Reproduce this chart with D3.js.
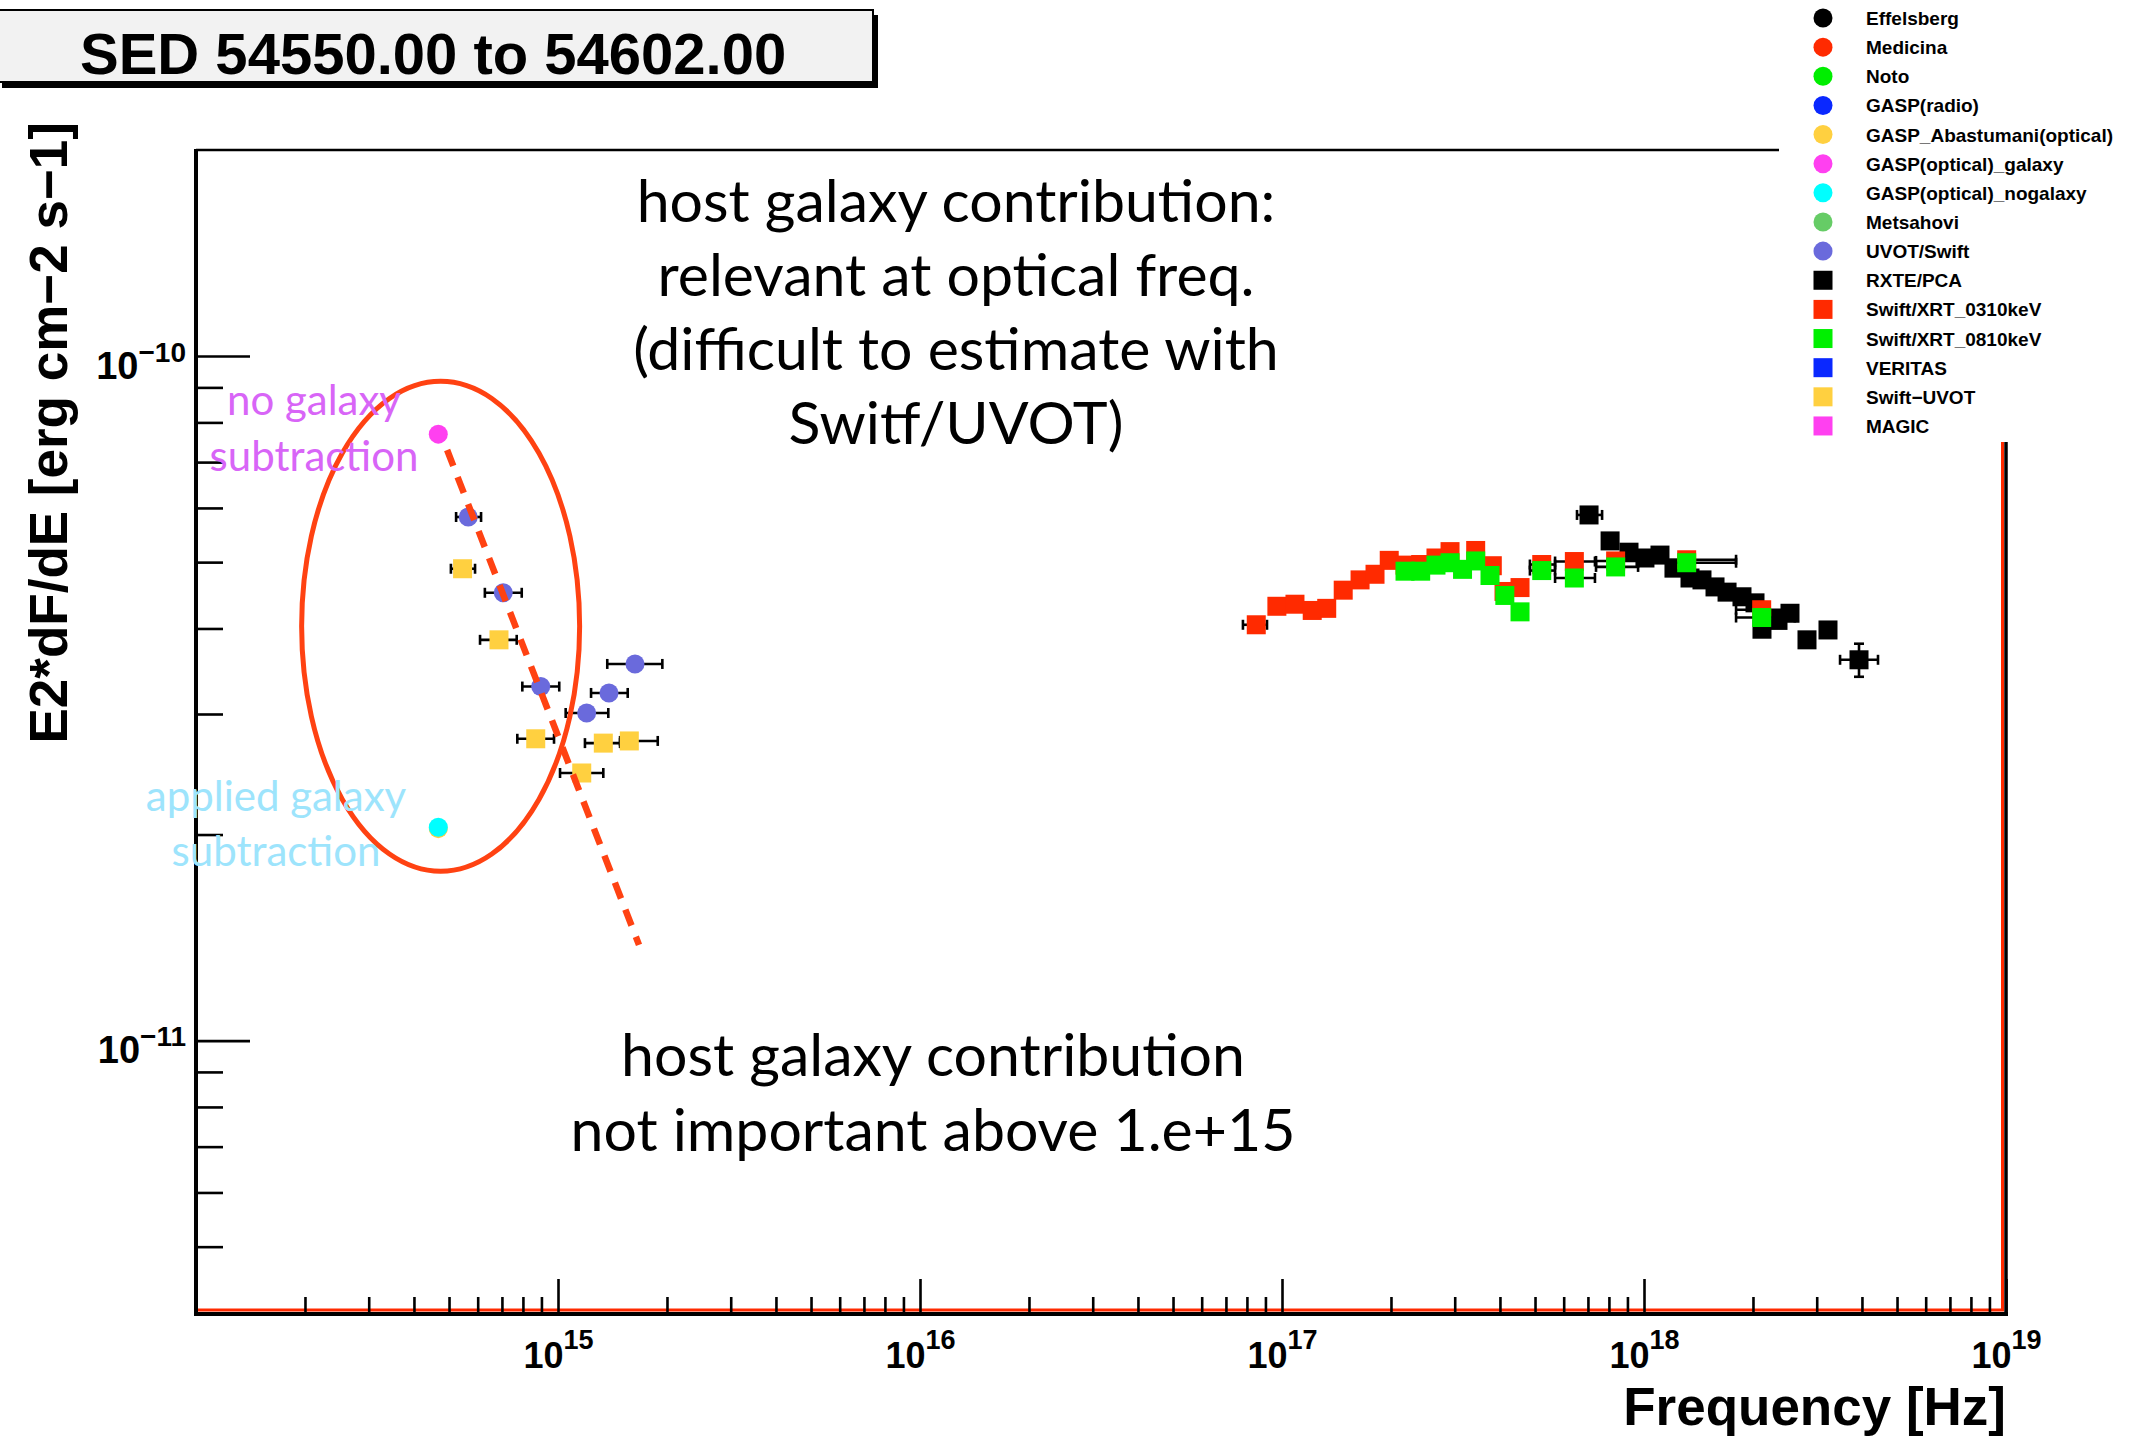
<!DOCTYPE html>
<html>
<head>
<meta charset="utf-8">
<script src="https://cdnjs.cloudflare.com/ajax/libs/d3/7.8.5/d3.min.js"></script>
<style>
  body { margin: 0; background: #fff; }
  svg { display: block; }
</style>
</head>
<body>
<svg id="chart" width="2133" height="1444"></svg>
<script>
"use strict";

// axis ranges and labelled decades
const freqDomain = [1e14, 1e19];
const fluxDomain = [4e-12, 2e-10];
const freqLabels = [15, 16, 17, 18, 19];
const fluxLabels = [-11, -10];

// GASP optical, one epoch
const gaspGalaxyFreq = [4.67e14];
const gaspGalaxyFlux = [7.69e-11];
const gaspAbasFreq = [4.67e14];
const gaspAbasFlux = [2.04e-11];
const gaspNoGalaxyFreq = [4.67e14];
const gaspNoGalaxyFlux = [2.05e-11];

// UVOT/Swift (circles)
const uvotFreq = [5.65e14, 7.06e14, 8.96e14, 1.200e15, 1.383e15, 1.632e15];
const uvotFlux = [5.82e-11, 4.51e-11, 3.29e-11, 3.01e-11, 3.22e-11, 3.55e-11];
const uvotFreqLo = [5.23e14, 6.28e14, 7.97e14, 1.050e15, 1.234e15, 1.368e15];
const uvotFreqHi = [6.13e14, 7.94e14, 1.008e15, 1.377e15, 1.558e15, 1.942e15];

// Swift-UVOT (squares)
const swiftUvotFreq = [5.45e14, 6.87e14, 8.68e14, 1.163e15, 1.334e15, 1.574e15];
const swiftUvotFlux = [4.89e-11, 3.85e-11, 2.76e-11, 2.46e-11, 2.72e-11, 2.74e-11];
const swiftUvotFreqLo = [5.06e14, 6.09e14, 7.72e14, 1.013e15, 1.187e15, 1.484e15];
const swiftUvotFreqHi = [5.90e14, 7.69e14, 9.75e14, 1.334e15, 1.484e15, 1.886e15];

// RXTE/PCA
const rxteFreq = [7.05e17, 8.06e17, 9.09e17, 1.006e18, 1.107e18, 1.210e18, 1.340e18, 1.446e18, 1.571e18,
  1.696e18, 1.865e18, 2.026e18, 2.118e18, 2.345e18, 2.531e18, 2.820e18, 3.223e18, 3.926e18];
const rxteFlux = [5.86e-11, 5.37e-11, 5.17e-11, 5.07e-11, 5.12e-11, 4.90e-11, 4.74e-11, 4.71e-11, 4.60e-11,
  4.52e-11, 4.45e-11, 4.36e-11, 3.99e-11, 4.11e-11, 4.21e-11, 3.85e-11, 3.98e-11, 3.60e-11];
const rxteFreqLo = [6.53e17, null, null, null, null, null, null, null, null,
  null, null, null, null, null, null, null, null, 3.48e18];
const rxteFreqHi = [7.66e17, null, null, null, null, null, null, null, null,
  null, null, null, null, null, null, null, null, 4.43e18];
const rxteFluxLo = [null, null, null, null, null, null, null, null, null,
  null, null, null, null, null, null, null, null, 3.40e-11];
const rxteFluxHi = [null, null, null, null, null, null, null, null, null,
  null, null, null, null, null, null, null, null, 3.80e-11];

// Swift/XRT 0.3-10 keV
const xrt0310Freq = [8.49e16, 9.68e16, 1.086e17, 1.212e17, 1.329e17, 1.476e17, 1.643e17, 1.807e17, 1.978e17,
  2.187e17, 2.416e17, 2.663e17, 2.912e17, 3.428e17, 3.810e17, 4.105e17, 4.545e17, 5.218e17, 6.421e17,
  8.349e17, 1.312e18, 2.114e18];
const xrt0310Flux = [4.05e-11, 4.31e-11, 4.34e-11, 4.25e-11, 4.28e-11, 4.55e-11, 4.71e-11, 4.80e-11, 5.03e-11,
  4.95e-11, 4.96e-11, 5.07e-11, 5.18e-11, 5.20e-11, 4.94e-11, 4.53e-11, 4.59e-11, 4.96e-11, 5.01e-11,
  5.02e-11, 5.04e-11, 4.26e-11];
const xrt0310FreqLo = [7.80e16, null, null, null, null, null, null, null, null,
  null, null, null, null, null, null, null, null, 4.84e17, 5.68e17, 7.37e17, 9.63e17, 1.796e18];
const xrt0310FreqHi = [9.09e16, null, null, null, null, null, null, null, null,
  null, null, null, null, null, null, null, null, 5.68e17, 7.32e17, 9.63e17, 1.796e18, 2.61e18];

// Swift/XRT 0.8-10 keV
const xrt0810Freq = [2.187e17, 2.416e17, 2.663e17, 2.912e17, 3.153e17, 3.428e17, 3.755e17, 4.126e17,
  4.545e17, 5.218e17, 6.421e17, 8.349e17, 1.312e18, 2.114e18];
const xrt0810Flux = [4.85e-11, 4.85e-11, 4.95e-11, 4.99e-11, 4.88e-11, 5.02e-11, 4.78e-11, 4.47e-11,
  4.23e-11, 4.86e-11, 4.74e-11, 4.92e-11, 4.99e-11, 4.15e-11];
const xrt0810FreqLo = [null, null, null, null, null, null, null, null,
  null, 4.84e17, 5.68e17, 7.37e17, 9.63e17, 1.796e18];
const xrt0810FreqHi = [null, null, null, null, null, null, null, null,
  null, 5.68e17, 7.32e17, 9.63e17, 1.796e18, 2.61e18];

// host galaxy sketch: dashed slope and the circled region
const hostLineFreq = [4.94e14, 1.674e15];
const hostLineFlux = [7.29e-11, 1.38e-11];
const hostEllipse = [4.74e14, 4.03e-11];

// legend
const legendNames = ["Effelsberg", "Medicina", "Noto", "GASP(radio)", "GASP_Abastumani(optical)",
  "GASP(optical)_galaxy", "GASP(optical)_nogalaxy", "Metsahovi", "UVOT/Swift", "RXTE/PCA",
  "Swift/XRT_0310keV", "Swift/XRT_0810keV", "VERITAS", "Swift\u2212UVOT", "MAGIC"];
const legendColors = ["#000000", "#ff2a00", "#00ee00", "#0a28ff", "#ffd040", "#ff40f0", "#00ffff",
  "#66cc66", "#6a6adc", "#000000", "#ff2a00", "#00f000", "#0a28ff", "#ffd040", "#ff40f0"];
const legendShapes = ["circle", "circle", "circle", "circle", "circle", "circle", "circle", "circle",
  "circle", "square", "square", "square", "square", "square", "square"];

// text notes
const noteTop = ["host galaxy contribution:", "relevant at optical freq.", "(difficult to estimate with", "Switf/UVOT)"];
const noteBottom = ["host galaxy contribution", "not important above 1.e+15"];
const noteNoGalaxy = ["no galaxy", "subtraction"];
const noteApplied = ["applied galaxy", "subtraction"];

(function() {
  window.addEventListener("load", init);

  const ROOT_FONT = "'Liberation Sans', Arial, Helvetica, sans-serif";
  const NOTE_FONT = "Lato, 'Open Sans', sans-serif";

  function init() {
    const svg = d3.select("#chart");
    const x = d3.scaleLog().domain(freqDomain).range([196, 2006]);
    const y = d3.scaleLog().domain(fluxDomain).range([1313, 150]);

    drawTitle(svg);
    drawFrame(svg, x, y);
    drawData(svg, x, y);
    drawNotes(svg, x, y);
    drawLegend(svg);
  }

  function drawTitle(svg) {
    // pave with a shadow, like ROOT
    svg.append("rect").attr("x", 2).attr("y", 15).attr("width", 876).attr("height", 73).attr("fill", "#000");
    svg.append("rect")
      .attr("x", -4).attr("y", 10).attr("width", 877).attr("height", 72)
      .attr("fill", "#f2f2f2").attr("stroke", "#000").attr("stroke-width", 2);
    svg.append("text")
      .attr("x", 80).attr("y", 74)
      .attr("font-family", ROOT_FONT).attr("font-weight", "bold").attr("font-size", 58)
      .text("SED 54550.00 to 54602.00");
  }

  function drawFrame(svg, x, y) {
    const left = x.range()[0], right = x.range()[1];
    const bottom = y.range()[0], top = y.range()[1];

    svg.append("line").attr("x1", left).attr("x2", right).attr("y1", top).attr("y2", top)
      .attr("stroke", "#000").attr("stroke-width", 2.5);
    // red graph line lying on the frame
    svg.append("path")
      .attr("d", "M" + (left + 2) + "," + (bottom - 3) + "H" + (right - 3.5) + "V" + top)
      .attr("fill", "none").attr("stroke", "#ff2a00").attr("stroke-width", 3);
    svg.append("line").attr("x1", right).attr("x2", right).attr("y1", top).attr("y2", bottom + 2)
      .attr("stroke", "#000").attr("stroke-width", 3.5);
    svg.append("line").attr("x1", left).attr("x2", left).attr("y1", top - 1).attr("y2", bottom + 3)
      .attr("stroke", "#000").attr("stroke-width", 4);
    svg.append("line").attr("x1", left - 2).attr("x2", right + 2).attr("y1", bottom + 1).attr("y2", bottom + 1)
      .attr("stroke", "#000").attr("stroke-width", 4);

    // ticks: majors on whole decades, minors on 2..9
    const isDecade = d => Math.abs(Math.log10(d) - Math.round(Math.log10(d))) < 1e-6;
    const xt = x.ticks().filter(d => d > freqDomain[0] * 1.01);
    const yt = y.ticks().filter(d => d > fluxDomain[0] * 1.01 && d < fluxDomain[1] * 0.99);

    const xMinor = svg.append("g").attr("transform", "translate(0," + bottom + ")")
      .call(d3.axisBottom(x).tickValues(xt.filter(d => !isDecade(d))).tickSizeInner(-16).tickSizeOuter(0).tickFormat(""));
    const xMajor = svg.append("g").attr("transform", "translate(0," + bottom + ")")
      .call(d3.axisBottom(x).tickValues(xt.filter(isDecade)).tickSizeInner(-34).tickSizeOuter(0).tickFormat(""));
    const yMinor = svg.append("g").attr("transform", "translate(" + left + ",0)")
      .call(d3.axisLeft(y).tickValues(yt.filter(d => !isDecade(d))).tickSizeInner(-27).tickSizeOuter(0).tickFormat(""));
    const yMajor = svg.append("g").attr("transform", "translate(" + left + ",0)")
      .call(d3.axisLeft(y).tickValues(yt.filter(isDecade)).tickSizeInner(-54).tickSizeOuter(0).tickFormat(""));

    [xMinor, xMajor, yMinor, yMajor].forEach(g => {
      g.select(".domain").remove();
      g.selectAll("text").remove();
      g.selectAll("line").attr("stroke", "#000").attr("stroke-width", 2.6);
    });

    // 10^n labels
    xMajor.selectAll(".tick")
      .filter(d => freqLabels.indexOf(Math.round(Math.log10(d))) >= 0)
      .append("text")
      .attr("y", 55).attr("text-anchor", "middle").attr("fill", "#000")
      .attr("font-family", ROOT_FONT).attr("font-weight", "bold")
      .each(function(d) {
        const t = d3.select(this);
        t.append("tspan").attr("font-size", 36).text("10");
        t.append("tspan").attr("font-size", 27).attr("dy", -19).text(Math.round(Math.log10(d)));
      });

    yMajor.selectAll(".tick")
      .filter(d => fluxLabels.indexOf(Math.round(Math.log10(d))) >= 0)
      .append("text")
      .attr("x", -10).attr("y", 22).attr("text-anchor", "end").attr("fill", "#000")
      .attr("font-family", ROOT_FONT).attr("font-weight", "bold")
      .each(function(d) {
        const t = d3.select(this);
        t.append("tspan").attr("font-size", 38).text("10");
        t.append("tspan").attr("font-size", 28).attr("dy", -17).text("\u2212" + Math.abs(Math.round(Math.log10(d))));
      });

    // axis titles
    svg.append("text")
      .attr("x", right).attr("y", 1425).attr("text-anchor", "end")
      .attr("font-family", ROOT_FONT).attr("font-weight", "bold").attr("font-size", 53)
      .text("Frequency [Hz]");
    svg.append("text")
      .attr("transform", "translate(67,122) rotate(-90)")
      .attr("text-anchor", "end")
      .attr("font-family", ROOT_FONT).attr("font-weight", "bold").attr("font-size", 53)
      .text("E2*dF/dE [erg cm\u22122 s\u22121]");
  }

  function makeSeries(freq, flux, color, shape, lo, hi, ylo, yhi) {
    return freq.map((f, i) => ({
      f: f, v: flux[i], color: color, shape: shape,
      lo: lo ? lo[i] : null, hi: hi ? hi[i] : null,
      ylo: ylo ? ylo[i] : null, yhi: yhi ? yhi[i] : null
    }));
  }

  function drawData(svg, x, y) {
    // same order as the legend, so later series sit on top
    const groups = [
      makeSeries(gaspAbasFreq, gaspAbasFlux, legendColors[4], "circle"),
      makeSeries(gaspGalaxyFreq, gaspGalaxyFlux, legendColors[5], "circle"),
      makeSeries(gaspNoGalaxyFreq, gaspNoGalaxyFlux, legendColors[6], "circle"),
      makeSeries(uvotFreq, uvotFlux, legendColors[8], "circle", uvotFreqLo, uvotFreqHi),
      makeSeries(rxteFreq, rxteFlux, legendColors[9], "square", rxteFreqLo, rxteFreqHi, rxteFluxLo, rxteFluxHi),
      makeSeries(xrt0310Freq, xrt0310Flux, legendColors[10], "square", xrt0310FreqLo, xrt0310FreqHi),
      makeSeries(xrt0810Freq, xrt0810Flux, legendColors[11], "square", xrt0810FreqLo, xrt0810FreqHi),
      makeSeries(swiftUvotFreq, swiftUvotFlux, legendColors[13], "square", swiftUvotFreqLo, swiftUvotFreqHi)
    ];

    const cap = 5;
    groups.forEach(points => {
      const g = svg.append("g");
      const bars = g.append("g").attr("stroke", "#000").attr("stroke-width", 2.6);

      points.filter(p => p.lo !== null).forEach(p => {
        const py = y(p.v);
        bars.append("line").attr("x1", x(p.lo)).attr("x2", x(p.hi)).attr("y1", py).attr("y2", py);
        bars.append("line").attr("x1", x(p.lo)).attr("x2", x(p.lo)).attr("y1", py - cap).attr("y2", py + cap);
        bars.append("line").attr("x1", x(p.hi)).attr("x2", x(p.hi)).attr("y1", py - cap).attr("y2", py + cap);
      });
      points.filter(p => p.ylo !== null).forEach(p => {
        const px = x(p.f);
        bars.append("line").attr("x1", px).attr("x2", px).attr("y1", y(p.ylo)).attr("y2", y(p.yhi));
        bars.append("line").attr("x1", px - cap).attr("x2", px + cap).attr("y1", y(p.ylo)).attr("y2", y(p.ylo));
        bars.append("line").attr("x1", px - cap).attr("x2", px + cap).attr("y1", y(p.yhi)).attr("y2", y(p.yhi));
      });

      g.selectAll("circle")
        .data(points.filter(p => p.shape === "circle"))
        .enter().append("circle")
        .attr("cx", d => x(d.f)).attr("cy", d => y(d.v)).attr("r", 9.5)
        .attr("fill", d => d.color);
      g.selectAll("rect")
        .data(points.filter(p => p.shape === "square"))
        .enter().append("rect")
        .attr("x", d => x(d.f) - 9.5).attr("y", d => y(d.v) - 9.5)
        .attr("width", 19).attr("height", 19)
        .attr("fill", d => d.color);
    });
  }

  function drawNotes(svg, x, y) {
    const orange = "#ff4212";

    svg.append("ellipse")
      .attr("cx", x(hostEllipse[0])).attr("cy", y(hostEllipse[1]))
      .attr("rx", 139).attr("ry", 245)
      .attr("fill", "none").attr("stroke", orange).attr("stroke-width", 5);

    const line = d3.line().x(d => x(d[0])).y(d => y(d[1]));
    svg.append("path")
      .attr("d", line(hostLineFreq.map((f, i) => [f, hostLineFlux[i]])))
      .attr("fill", "none").attr("stroke", orange).attr("stroke-width", 6.5)
      .attr("stroke-dasharray", "17,12");

    function block(lines, cx, y0, step, size, color) {
      svg.append("g").selectAll("text")
        .data(lines)
        .enter().append("text")
        .attr("x", cx).attr("y", (d, i) => y0 + i * step)
        .attr("text-anchor", "middle")
        .attr("font-family", NOTE_FONT).attr("font-size", size).attr("fill", color)
        .text(d => d);
    }

    block(noteTop, 956, 222, 74, 59, "#000");
    block(noteBottom, 933, 1076, 75, 59, "#000");
    block(noteNoGalaxy, 314, 415, 56, 42, "#d865f7");
    block(noteApplied, 276, 811, 55, 42, "#9de4fc");
  }

  function drawLegend(svg) {
    const lg = svg.append("g");
    lg.append("rect").attr("x", 1779).attr("y", 0).attr("width", 354).attr("height", 442).attr("fill", "#fff");

    const rows = lg.selectAll("g.row")
      .data(legendNames)
      .enter().append("g")
      .attr("class", "row")
      .attr("transform", (d, i) => "translate(1823," + (18 + i * 29.14) + ")");

    rows.each(function(d, i) {
      const r = d3.select(this);
      if (legendShapes[i] === "circle") {
        r.append("circle").attr("r", 9.5).attr("fill", legendColors[i]);
      } else {
        r.append("rect").attr("x", -9.5).attr("y", -9.5).attr("width", 19).attr("height", 19)
          .attr("fill", legendColors[i]);
      }
    });

    rows.append("text")
      .attr("x", 43).attr("y", 7)
      .attr("font-family", ROOT_FONT).attr("font-weight", "bold").attr("font-size", 19)
      .attr("fill", "#000")
      .text(d => d);
  }
})();
</script>
</body>
</html>
